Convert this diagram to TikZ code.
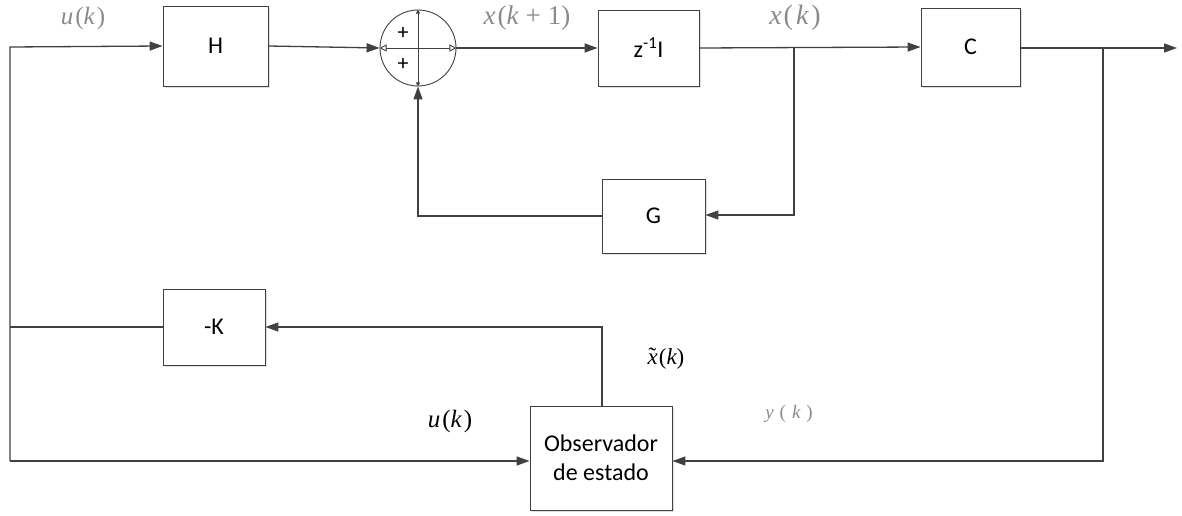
\documentclass[tikz,border=0pt]{standalone}
\usepackage{fontspec}
\setmainfont{Carlito}
\newfontfamily\tms{Liberation Serif}
\newfontfamily\tmsit{Liberation Serif Italic}
\usetikzlibrary{arrows.meta,shadows}
\definecolor{ln}{HTML}{404040}
\definecolor{lbl}{HTML}{8A8A8A}
\newcommand{\vi}[1]{{\tmsit #1}}
\tikzset{
  blk/.style={draw=ln, fill=white, line width=0.9pt, minimum width=#1, font=\fontsize{24}{28}\selectfont,
    drop shadow={shadow xshift=2pt, shadow yshift=-2pt, fill=black, opacity=0.12}},
  con/.style={draw=ln, line width=1.3pt},
  arr/.style={con, -{Triangle[length=13pt,width=9pt]}},
  glbl/.style={text=lbl, inner sep=1pt, font=\tms\fontsize{25}{28}\selectfont},
  blbl/.style={text=black, inner sep=1pt, font=\tms\fontsize{25}{28}\selectfont},
}
\begin{document}
\begin{tikzpicture}[x=1pt,y=-1pt]
\useasboundingbox (0,0) rectangle (1182,516);
% blocks
\node[blk=105pt, minimum height=80pt] (H) at (215.5,46) {H};
\node[blk=101pt, minimum height=76pt] (Z) at (648.5,48) {z\textsuperscript{-1}I};
\node[blk=99pt, minimum height=78pt] (C) at (970.5,47) {C};
\node[blk=103pt, minimum height=74pt] (G) at (653.5,216) {G};
\node[blk=102pt, minimum height=76pt] (K) at (214,327) {-K};
\node[blk=142pt, minimum height=104pt, align=center, font=\fontsize{24}{29}\selectfont] (O) at (601,458) {Observador\\de estado};
% summing junction
\node[draw=ln, circle, line width=0.9pt, minimum size=76pt, inner sep=0pt] (S) at (418,48) {};
\draw[ln, line width=0.9pt, -{Triangle[open,length=7pt,width=7pt]}] (S.center) -- (S.west);
\draw[ln, line width=0.9pt, -{Triangle[open,length=7pt,width=7pt]}] (S.center) -- (S.east);
\draw[ln, line width=0.9pt, -{Triangle[length=4pt,width=4pt]}] (S.center) -- (S.north);
\draw[ln, line width=0.9pt, -{Triangle[length=4pt,width=4pt]}] (S.center) -- (S.south);
\node[font=\fontsize{22}{24}\selectfont] (p1) at (403,33) {+};
\node[font=\fontsize{22}{24}\selectfont] (p2) at (403,64) {+};
% coordinates
\coordinate (L1) at (10,47);
\coordinate (L2) at (10,327);
\coordinate (L3) at (10,461);
\coordinate (B1) at (794,48);
\coordinate (B2) at (794,215);
\coordinate (B3) at (1103,48);
\coordinate (B4) at (1103,461);
\coordinate (OUT) at (1177,48);
\coordinate (G1) at (418,216);
\coordinate (O1) at (602,327);
% connectors
\draw[arr] (L3) -- (L1) -- (H.west);
\draw[arr] (H.east) -- (S.west);
\draw[arr] (S.east) -- (Z.west);
\draw[arr] (Z.east) -- (C.west);
\draw[arr] (B1) -- (B2) -- (G.east |- B2);
\draw[arr] (C.east |- OUT) -- (OUT);
\draw[arr] (G.west) -- (G1) -- (S.south);
\draw[arr] (O.north -| O1) -- (O1) -- (K.east);
\draw[con] (K.west) -- (L2);
\draw[arr] (L3) -- (O.west |- L3);
\draw[arr] (B3) -- (B4) -- (O.east |- B4);
% labels
\node[glbl] (lu) at (83,18) {\vi{u}\kern2pt(\vi{k}\kern2pt)};
\node[glbl, font=\tms\fontsize{27}{30}\selectfont] (lx1) at (527,18) {\vi{x}\kern2pt(\vi{k}\kern7pt+\kern7pt1)};
\node[glbl, font=\tms\fontsize{28}{30}\selectfont] (lx) at (795,18) {\vi{x}\kern2pt(\kern3pt\vi{k}\kern3pt)};
\node[blbl, font=\tms\fontsize{23}{26}\selectfont] (lxt) at (666,359) {\rlap{\kern1pt\raisebox{1pt}{\char"02DC}}\vi{x}\kern1pt(\vi{k})};
\node[blbl] (lu2) at (450,421) {\vi{u}\kern2pt(\vi{k}\kern2pt)};
\node[glbl, font=\tms\fontsize{19}{22}\selectfont] (ly) at (789,414) {\vi{y}\kern6pt(\kern6pt\vi{k}\kern6pt)};
\end{tikzpicture}
\end{document}
